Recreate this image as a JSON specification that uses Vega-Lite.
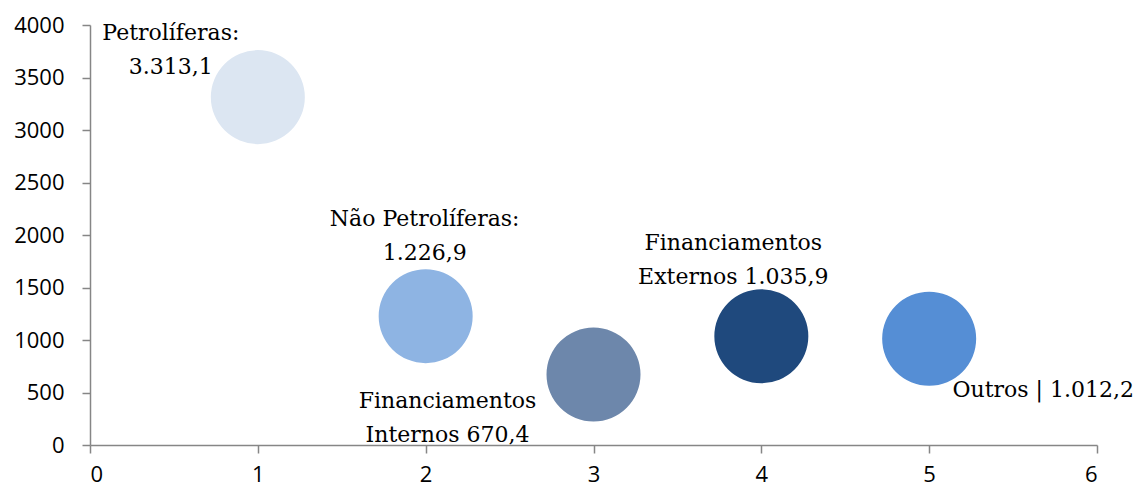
{
  "$schema": "https://vega.github.io/schema/vega-lite/v6.json",
  "width": 1007,
  "height": 420,
  "autosize": {"type": "none"},
  "padding": {"left": 90, "top": 25, "right": 37, "bottom": 43},
  "background": "white",
  "config": {"view": {"stroke": null}},
  "data": {"values": [
    {"x": 1, "y": 3313.1, "name": "Petrolíferas", "label": ["Petrolíferas:", "3.313,1"]},
    {"x": 2, "y": 1226.9, "name": "Não Petrolíferas", "label": ["Não Petrolíferas:", "1.226,9"]},
    {"x": 3, "y": 670.4, "name": "Financiamentos Internos", "label": ["Financiamentos", "Internos 670,4"]},
    {"x": 4, "y": 1035.9, "name": "Financiamentos Externos", "label": ["Financiamentos", "Externos 1.035,9"]},
    {"x": 5, "y": 1012.2, "name": "Outros", "label": ["Outros | 1.012,2"]}
  ]},
  "encoding": {
    "x": {"field": "x", "type": "quantitative", "scale": {"domain": [0, 6], "nice": false, "zero": true},
      "axis": {"title": null, "values": [0,1,2,3,4,5,6], "format": "d", "grid": false, "domainColor": "#868686", "domainWidth": 1.5, "tickColor": "#868686", "tickWidth": 1.5, "tickSize": 8, "labelPadding": 11, "labelFont": "Open Sans", "labelFontSize": 22, "labelColor": "#000000"}},
    "y": {"field": "y", "type": "quantitative", "scale": {"domain": [0, 4000], "nice": false},
      "axis": {"title": null, "values": [0,500,1000,1500,2000,2500,3000,3500,4000], "format": "d", "grid": false, "domainColor": "#868686", "domainWidth": 1.5, "tickColor": "#868686", "tickWidth": 1.5, "tickSize": 8, "labelPadding": 18, "labelFont": "Open Sans", "labelFontSize": 22, "labelColor": "#000000"}}
  },
  "layer": [
    {
      "mark": {"type": "circle", "size": 8836, "opacity": 1},
      "encoding": {
        "color": {"field": "name", "type": "nominal", "legend": null,
          "scale": {"domain": ["Petrolíferas", "Não Petrolíferas", "Financiamentos Internos", "Financiamentos Externos", "Outros"],
                    "range": ["#dce6f2", "#8eb4e3", "#6d87ab", "#1f497d", "#558ed5"]}}
      }
    },
    {
      "transform": [{"filter": "datum.name === 'Petrolíferas'"}],
      "mark": {"type": "text", "font": "DejaVu Serif", "fontSize": 22, "lineHeight": 34, "dx": -87, "dy": -64, "align": "center", "baseline": "middle", "color": "#000000"},
      "encoding": {"text": {"field": "label"}}
    },
    {
      "transform": [{"filter": "datum.name === 'Não Petrolíferas'"}],
      "mark": {"type": "text", "font": "DejaVu Serif", "fontSize": 22, "lineHeight": 34, "dx": -1, "dy": -97, "align": "center", "baseline": "middle", "color": "#000000"},
      "encoding": {"text": {"field": "label"}}
    },
    {
      "transform": [{"filter": "datum.name === 'Financiamentos Internos'"}],
      "mark": {"type": "text", "font": "DejaVu Serif", "fontSize": 22, "lineHeight": 34, "dx": -146, "dy": 26, "align": "center", "baseline": "middle", "color": "#000000"},
      "encoding": {"text": {"field": "label"}}
    },
    {
      "transform": [{"filter": "datum.name === 'Financiamentos Externos'"}],
      "mark": {"type": "text", "font": "DejaVu Serif", "fontSize": 22, "lineHeight": 34, "dx": -28, "dy": -93, "align": "center", "baseline": "middle", "color": "#000000"},
      "encoding": {"text": {"field": "label"}}
    },
    {
      "transform": [{"filter": "datum.name === 'Outros'"}],
      "mark": {"type": "text", "font": "DejaVu Serif", "fontSize": 22, "lineHeight": 34, "dx": 114, "dy": 51, "align": "center", "baseline": "middle", "color": "#000000"},
      "encoding": {"text": {"field": "label"}}
    }
  ]
}
